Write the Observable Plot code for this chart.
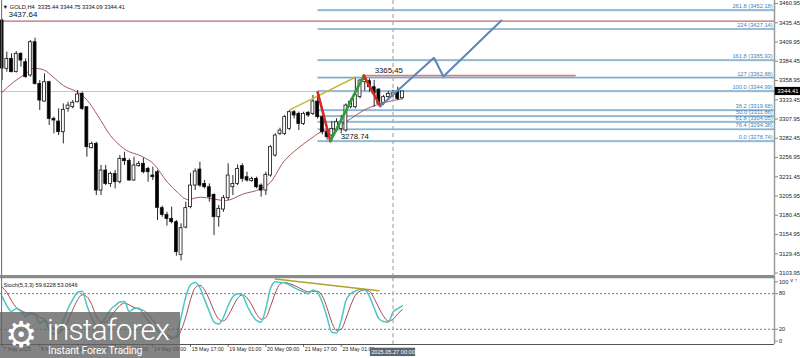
<!DOCTYPE html>
<html><head><meta charset="utf-8">
<script src="https://cdn.jsdelivr.net/npm/d3@7"></script>
<script src="https://cdn.jsdelivr.net/npm/@observablehq/plot@0.6"></script>
<style>
body{margin:0;background:#fff;}
#wrap{position:relative;width:800px;height:358px;overflow:hidden;background:#fff;}
#wrap svg{display:block;}
.wm{position:absolute;left:0;top:312px;width:180px;height:46px;background:rgba(98,98,98,0.78);color:#fff;overflow:hidden;}
.wm .gear{position:absolute;left:5px;top:2px;font-family:"DejaVu Sans";font-size:36px;line-height:42px;}
.wm .big{position:absolute;left:47px;top:2px;font-family:Roboto,"Open Sans",sans-serif;font-weight:300;font-size:30px;line-height:31px;letter-spacing:-0.9px;white-space:nowrap;}
.wm .small{position:absolute;left:48px;top:32px;font-family:Roboto,"Open Sans",sans-serif;font-size:10.5px;line-height:13px;letter-spacing:-0.2px;white-space:nowrap;}
</style></head><body><div id="wrap"></div>
<script>
// ---- data ----
const openP  = [3438.4,3374.4,3387.6,3370.0,3394.3,3383.2,3365.6,3409.7,3354.5,3331.1,3356.7,3308.2,3304.6,3290.5,3321.4,3323.6,3330.2,3341.3,3323.6,3269.3,3275.0,3213.2,3239.7,3222.0,3235.3,3224.3,3255.2,3252.5,3226.5,3245.5,3248.6,3241.9,3233.1,3237.5,3189.9,3181.0,3175.7,3171.3,3128.0,3164.2,3191.2,3219.8,3241.0,3222.0,3217.6,3207.5,3177.9,3188.1,3203.1,3217.6,3222.0,3245.5,3230.9,3225.6,3228.7,3219.8,3213.2,3233.1,3259.6,3288.3,3288.3,3294.9,3317.0,3314.8,3301.5,3316.1,3314.8,3331.1,3310.4,3290.5,3286.1,3292.7,3294.9,3292.7,3323.6,3323.6,3337.0,3356.7,3358.0,3350.1,3347.0,3329.4,3336.9,3340.0,3343.5,3335.44];
const highP  = [3440.0,3396.5,3394.3,3397.3,3395.6,3387.6,3411.9,3415.0,3358.9,3367.8,3358.0,3310.4,3321.4,3328.0,3330.2,3332.4,3345.7,3343.5,3324.0,3277.3,3277.3,3246.4,3246.4,3237.5,3239.7,3259.6,3264.0,3255.2,3257.4,3251.6,3256.1,3244.1,3244.1,3239.7,3192.5,3184.5,3191.2,3173.5,3169.1,3197.8,3236.0,3241.9,3250.8,3226.5,3222.0,3208.8,3193.4,3206.6,3248.6,3233.1,3247.2,3248.6,3237.5,3230.9,3230.9,3222.0,3237.5,3272.8,3288.3,3295.8,3312.6,3319.2,3319.2,3317.0,3317.0,3318.0,3339.1,3343.5,3313.0,3294.0,3304.6,3308.2,3312.6,3328.0,3334.6,3363.0,3360.0,3365.45,3361.1,3358.9,3347.9,3339.1,3344.4,3346.0,3350.1,3344.75];
const lowP   = [3359.0,3370.0,3369.1,3369.1,3376.6,3362.0,3363.4,3353.0,3319.2,3330.2,3299.3,3288.3,3286.1,3275.0,3317.0,3321.4,3329.4,3319.2,3257.4,3268.4,3206.6,3206.6,3219.8,3217.6,3215.4,3222.0,3246.4,3225.6,3225.6,3244.1,3235.3,3224.3,3226.5,3173.5,3177.9,3166.0,3169.1,3126.3,3120.0,3162.5,3189.0,3213.2,3217.6,3215.4,3197.8,3153.6,3164.7,3184.5,3200.0,3206.6,3219.8,3224.3,3224.3,3224.3,3215.4,3204.4,3206.6,3230.9,3257.4,3286.1,3286.1,3292.7,3308.2,3292.7,3299.3,3310.0,3312.6,3308.0,3287.0,3280.0,3278.74,3290.5,3288.3,3290.5,3321.4,3321.4,3334.6,3345.0,3343.5,3323.6,3324.5,3325.8,3334.6,3336.0,3332.4,3334.09];
const closeP = [3374.8,3387.6,3370.0,3394.3,3385.4,3363.4,3409.7,3354.5,3332.4,3356.7,3308.2,3306.0,3290.5,3320.1,3325.8,3329.4,3340.4,3321.4,3270.6,3275.0,3213.2,3239.7,3222.0,3235.3,3224.3,3255.2,3252.1,3226.5,3246.4,3248.6,3237.5,3237.5,3230.9,3190.3,3181.0,3175.7,3171.3,3131.6,3163.3,3189.9,3219.8,3238.4,3219.8,3217.6,3204.4,3177.9,3189.0,3203.1,3233.1,3222.0,3241.9,3228.7,3226.5,3228.7,3217.6,3213.2,3234.0,3270.6,3286.1,3292.7,3310.4,3317.0,3312.6,3301.5,3314.8,3312.6,3331.1,3310.4,3290.5,3283.9,3294.9,3303.7,3303.7,3325.8,3331.1,3340.0,3358.9,3360.0,3350.1,3341.3,3328.0,3336.9,3341.3,3342.0,3334.6,3344.41];

const maIdx = [0,2.4,5,6.7,8.8,10.9,13,16,18.1,20.3,23,25.8,30,32.1,35.1,37.2,39.4,42.1,47.4,51.3,54.9,57,59.7,62.7,65.5,67.6,70.4,74,76.7,80.3,83.1,85];
const maVal = [3343.4,3356.7,3367.8,3375.2,3373.1,3363.3,3352.3,3343.4,3332.5,3312.6,3286.1,3268.9,3257.4,3249.0,3224.2,3211.0,3201.3,3204.4,3200.0,3208.9,3215.5,3224.2,3250.7,3268.5,3281.7,3290.5,3294.9,3308.2,3319.2,3328.1,3332.5,3334.7];

const stochK = [75,60,50,55,50,42,48,45,30,35,18,12,13,35,55,70,82,84,60,40,25,30,40,53,60,66,67,50,55,56,45,35,25,19,10,6,5,8,40,75,95,99,90,70,50,32,29,40,60,75,80,78,60,45,35,32,55,89,100,99,98,95,90,86,83,80,86,82,65,40,15,14,35,68,80,84,87,87,75,56,38,33,32,49,55,59.62];
const stochD = [91,82,68,57,52,48,46,45,40,37,28,22,15,20,34,53,69,78,75,62,42,32,32,41,51,60,64,61,57,54,52,45,35,26,18,11,7,6,18,41,70,90,94,86,70,51,37,34,43,58,72,78,73,61,46,37,40,59,81,96,99,97,94,90,86,83,84,84,76,56,32,18,20,38,60,77,84,86,84,72,56,42,34,37,46,53.06];

const fibLevels = ["0.0","38.2","50.0","61.8","76.4","100.0","127","161.8","224","261.8"];
const fibPrices = [3278.74,3319.68,3311.86,3304.05,3294.38,3344.99,3362.88,3385.93,3427.14,3452.18];

const priceTicks = [3103.95,3129.45,3154.95,3180.45,3205.95,3231.45,3256.95,3282.45,3307.95,3333.45,3358.95,3384.45,3409.95,3435.45,3460.95];
const stochTicks = [0,20,80,100];
const timeTickIdx = [0,8,16,24,32,40,48,56,64,72];
const timeTickLabels = ["7 May 2025","8 May 09:00","9 May 17:00","13 May 01:00","14 May 09:00","15 May 17:00","19 May 01:00","20 May 09:00","21 May 17:00","23 May 01:00"];

// zigzag / projection legs
const legNames = ["div","down1","up1","down2","proj"];
const legIdx   = [[61.1,75],[67,69.7],[69.7,76.8],[76.8,80.3],[80.3,91.7,93.7,106]];
const legPrice = [[3320.1,3363.3],[3343.4,3278.74],[3278.74,3365.45],[3365.45,3324.9],[3324.9,3389.0,3364.2,3438.4]];
const stochDivIdx = [58,80];
const stochDivVal = [104.5,85];

const resistance = 3437.64, swingHigh = 3365.45, swingLow = 3278.74, lastPrice = 3344.41;
const cursorIdx = 83;
const titleText = "▼ GOLD,H4  3335.44 3344.75 3334.09 3344.41";
const stochText = "Stoch(5,3,3) 59.6228 53.0646";
const cursorTime = "2025.05.27 00:00";

// ---- build ----
const candles = openP.map((o,i)=>({i,o,h:highP[i],l:lowP[i],c:closeP[i]}));
const ma = maIdx.map((k,j)=>({k,v:maVal[j]}));
const fib = fibLevels.map((l,j)=>({l,p:fibPrices[j]}));
const legs = legNames.flatMap((n,j)=>legIdx[j].map((k,m)=>({n,k,p:legPrice[j][m]})));
const legStyle = {div:["#c2b93a",1.5],down1:["#d42a22",2.6],up1:["#2e9e3a",2.6],down2:["#d42a22",2.6],proj:["#5d86b5",2]};
const kData = stochK.map((v,i)=>({i,v}));
const dData = stochD.map((v,i)=>({i,v}));
const ticks = timeTickIdx.map((k,j)=>({k,t:timeTickLabels[j]}));

const xDomain = [-0.34,164];
const font = "'Liberation Sans', Arial, sans-serif";
const fmt2 = d3.format(".2f");

const main = Plot.plot({
  width:800,height:275,marginLeft:0,marginRight:26,marginTop:0,marginBottom:0,
  x:{domain:xDomain,axis:null},
  y:{domain:[3100.69,3464.92],axis:null},
  style:{fontFamily:font,background:"#fff",overflow:"visible",color:"#222"},
  marks:[
    Plot.ruleY([lastPrice],{stroke:"#c6c6c6",strokeWidth:1}),
    Plot.ruleY(fib,{y:"p",x1:()=>67.1,x2:()=>xDomain[1],stroke:"#b7d3e4",strokeWidth:2.2}),
    Plot.ruleY(fib,{y:"p",x1:()=>67.1,x2:()=>xDomain[1],stroke:"#6d9dc2",strokeWidth:0.8}),
    Plot.text(fib,{x:()=>163.6,y:"p",text:d=>`${d.l} (${fmt2(d.p)})`,textAnchor:"end",dy:-3.6,fill:"#3f7fc0",fontSize:5.7}),
    Plot.ruleY([resistance],{stroke:"#a8494b",strokeWidth:1}),
    Plot.ruleY([swingHigh],{x1:()=>76.8,x2:()=>121.9,stroke:"#c98486",strokeWidth:1.6}),
    Plot.line(ma,{x:"k",y:"v",stroke:"#a65a5c",strokeWidth:1,curve:"monotone-x"}),
    Plot.ruleX(candles,{x:"i",y1:"l",y2:"h",stroke:"#111",strokeWidth:0.9}),
    Plot.rect(candles,{x1:d=>d.i-0.31,x2:d=>d.i+0.31,y1:"o",y2:d=>Math.abs(d.c-d.o)<0.8?d.o+0.8:d.c,fill:d=>d.c>=d.o?"#ffffff":"#000000",stroke:"#111",strokeWidth:0.8}),
    ...legNames.map(n=>Plot.line(legs.filter(d=>d.n===n),{x:"k",y:"p",stroke:legStyle[n][0],strokeWidth:legStyle[n][1],strokeLinejoin:"miter"})),
    Plot.ruleX([cursorIdx],{stroke:"#a9a9a9",strokeWidth:1.2,strokeDasharray:"4,3"}),
    Plot.text([fmt2(resistance)],{x:()=>1.35,y:()=>resistance,text:d=>d,textAnchor:"start",dy:-6.5,fontSize:8,fill:"#111"}),
    Plot.text([fmt2(swingHigh)],{x:()=>79.1,y:()=>swingHigh,text:d=>d,textAnchor:"start",dy:-5,fontSize:7.8,fill:"#111"}),
    Plot.text([fmt2(swingLow)],{x:()=>71.9,y:()=>swingLow,text:d=>d,textAnchor:"start",dy:-4.5,fontSize:7.8,fill:"#111"}),
    Plot.text([titleText],{frameAnchor:"top-left",dx:2,dy:4.5,text:d=>d,textAnchor:"start",fontSize:5.7,fill:"#111"}),
    Plot.ruleX([-0.1],{stroke:"#666",strokeWidth:1}),
    Plot.ruleX([xDomain[1]],{stroke:"#9a9a9a",strokeWidth:1.5}),
    Plot.axisY({anchor:"right",ticks:priceTicks,tickFormat:fmt2,tickSize:3,tickPadding:1.5,fontSize:5.8,stroke:"#888"}),
    Plot.rect([lastPrice],{x1:()=>164.15,x2:()=>170,y1:d=>d-5.4,y2:d=>d+5.4,fill:"#000"}),
    Plot.text([lastPrice],{x:()=>164.6,y:d=>d,text:fmt2,textAnchor:"start",fill:"#fff",fontSize:5.9})
  ]
});

const stoch = Plot.plot({
  width:800,height:83,marginLeft:0,marginRight:26,marginTop:2.3,marginBottom:14,
  x:{domain:xDomain,axis:null},
  y:{domain:[-5.56,106.7],axis:null},
  style:{fontFamily:font,background:"#fff",overflow:"visible",color:"#222"},
  marks:[
    Plot.ruleY([80,20],{stroke:"#555",strokeWidth:0.8,strokeDasharray:"2,2"}),
    Plot.line(dData,{x:"i",y:"v",stroke:"#a84a4c",strokeWidth:1,curve:"monotone-x"}),
    Plot.line(kData,{x:"i",y:"v",stroke:"#4cc5c5",strokeWidth:1.5,curve:"monotone-x"}),
    Plot.line(stochDivIdx.map((k,j)=>({k,v:stochDivVal[j]})),{x:"k",y:"v",stroke:"#b0a52a",strokeWidth:1.5}),
    Plot.ruleX([cursorIdx],{y1:()=>106.7,y2:()=>-5.56,stroke:"#a9a9a9",strokeWidth:1.2,strokeDasharray:"4,3"}),
    Plot.text([stochText],{frameAnchor:"top-left",dx:3,dy:5.5,text:d=>d,textAnchor:"start",fontSize:5.6,fill:"#111"}),
    Plot.ruleY([108.8],{stroke:"#8a8a8a",strokeWidth:3.2}),
    Plot.ruleY([-5.56],{stroke:"#555",strokeWidth:1}),
    Plot.ruleX([-0.1],{y1:()=>106.7,y2:()=>-5.56,stroke:"#666",strokeWidth:1}),
    Plot.ruleX([xDomain[1]],{y1:()=>110,y2:()=>-5.56,stroke:"#9a9a9a",strokeWidth:1.5}),
    Plot.axisY({anchor:"right",ticks:stochTicks,tickFormat:d=>String(d),tickSize:3,tickPadding:1.5,fontSize:5.6,stroke:"#888"}),
    Plot.ruleX(ticks,{x:"k",y1:()=>-5.56,y2:()=>-10.5,stroke:"#444",strokeWidth:0.8}),
    Plot.text(ticks,{x:"k",frameAnchor:"bottom",dy:6.5,dx:1.2,text:"t",textAnchor:"start",fontSize:5.3,fill:"#222"}),
    Plot.rect([cursorTime],{x1:()=>cursorIdx-4.8,x2:()=>cursorIdx+4.8,y1:()=>-11.8,y2:()=>-25.8,fill:"#5b6572"}),
    Plot.text([cursorTime],{x:()=>cursorIdx,y:()=>-18.8,text:d=>d,fill:"#fff",fontSize:5.6})
  ]
});

const wrap = document.getElementById("wrap");
wrap.appendChild(main);
wrap.appendChild(stoch);
const wm = document.createElement("div");
wm.className = "wm";
wm.innerHTML = '<span class="gear">⚙</span><span class="big">instaforex</span><span class="small">Instant Forex Trading</span>';
wrap.appendChild(wm);
</script></body></html>
